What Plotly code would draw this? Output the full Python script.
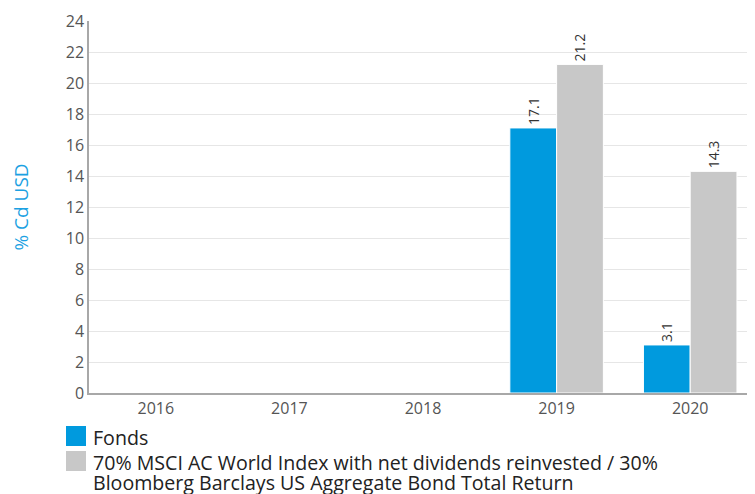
import plotly.graph_objects as go

years = ["2016", "2017", "2018", "2019", "2020"]
fonds = [None, None, None, 17.1, 3.1]
bench = [None, None, None, 21.2, 14.3]
fonds_name = "Fonds"
bench_lines = ["70% MSCI AC World Index with net dividends reinvested / 30%",
               "Bloomberg Barclays US Aggregate Bond Total Return"]
bench_name = " ".join(bench_lines)
y_ticks = list(range(0, 25, 2))

FONT = "Open Sans, sans-serif"
BLUE = "#009ADE"
GREY = "#C8C8C8"

# page body has an 8px margin, so the figure starts at (8, 8) in the window
OFF = 8
W, H = 757 - OFF, 494 - OFF
ML, MR, MT, MB = 89 - OFF, 0, 21 - OFF, 101
PW, PH = W - ML - MR, H - MT - MB


def px_x(p):  # page pixel -> paper x
    return (p - OFF - ML) / PW


def px_y(p):  # page pixel -> paper y
    return (H - MB - (p - OFF)) / PH


fig = go.Figure()
for vals, name, col in [(fonds, fonds_name, BLUE), (bench, bench_name, GREY)]:
    fig.add_trace(go.Bar(
        x=years, y=vals, name=name,
        marker=dict(color=col, line=dict(color="white", width=1)),
        text=[f"{v}" if v is not None else "" for v in vals],
        textposition="outside", textangle=-90,
        textfont=dict(size=14, color="#333333", family=FONT),
        cliponaxis=False, showlegend=False,
    ))

# custom legend (swatches + real text)
legend_items = [(BLUE, [fonds_name], 426), (GREY, bench_lines, 451)]
shapes, annotations = [], []
for col, lines, top in legend_items:
    shapes.append(dict(type="rect", xref="paper", yref="paper",
                       x0=px_x(66), x1=px_x(86), y0=px_y(top), y1=px_y(top + 20),
                       fillcolor=col, line=dict(width=0)))
    for i, ln in enumerate(lines):
        annotations.append(dict(text=ln, xref="paper", yref="paper",
                                x=px_x(91), y=px_y(top + 11.5 + 20 * i),
                                xanchor="left", yanchor="middle", showarrow=False,
                                font=dict(size=19.6, color="#222222", family=FONT)))

fig.update_layout(
    width=W, height=H,
    margin=dict(l=ML, r=MR, t=MT, b=MB, autoexpand=False),
    paper_bgcolor="white", plot_bgcolor="white",
    barmode="group", bargap=0.3, bargroupgap=0.0,
    font=dict(family=FONT, color="#555555", size=16),
    showlegend=False,
    shapes=shapes, annotations=annotations,
    uniformtext=dict(minsize=13, mode="show"),
)
fig.update_xaxes(
    type="category", showline=True, linecolor="#A8A8A8", linewidth=1.5,
    ticks="", tickfont=dict(size=16, color="#555555"), showgrid=False,
)
fig.update_yaxes(
    range=[0, 24], tickvals=y_ticks, showline=True, linecolor="#A8A8A8", linewidth=1.5,
    gridcolor="#E6E6E6", gridwidth=1, zeroline=False, ticks="",
    tickfont=dict(size=16, color="#555555"),
    title=dict(text="% Cd USD", font=dict(size=19, color="#1BA1E2"), standoff=36),
)

fig.write_html("out.html")
